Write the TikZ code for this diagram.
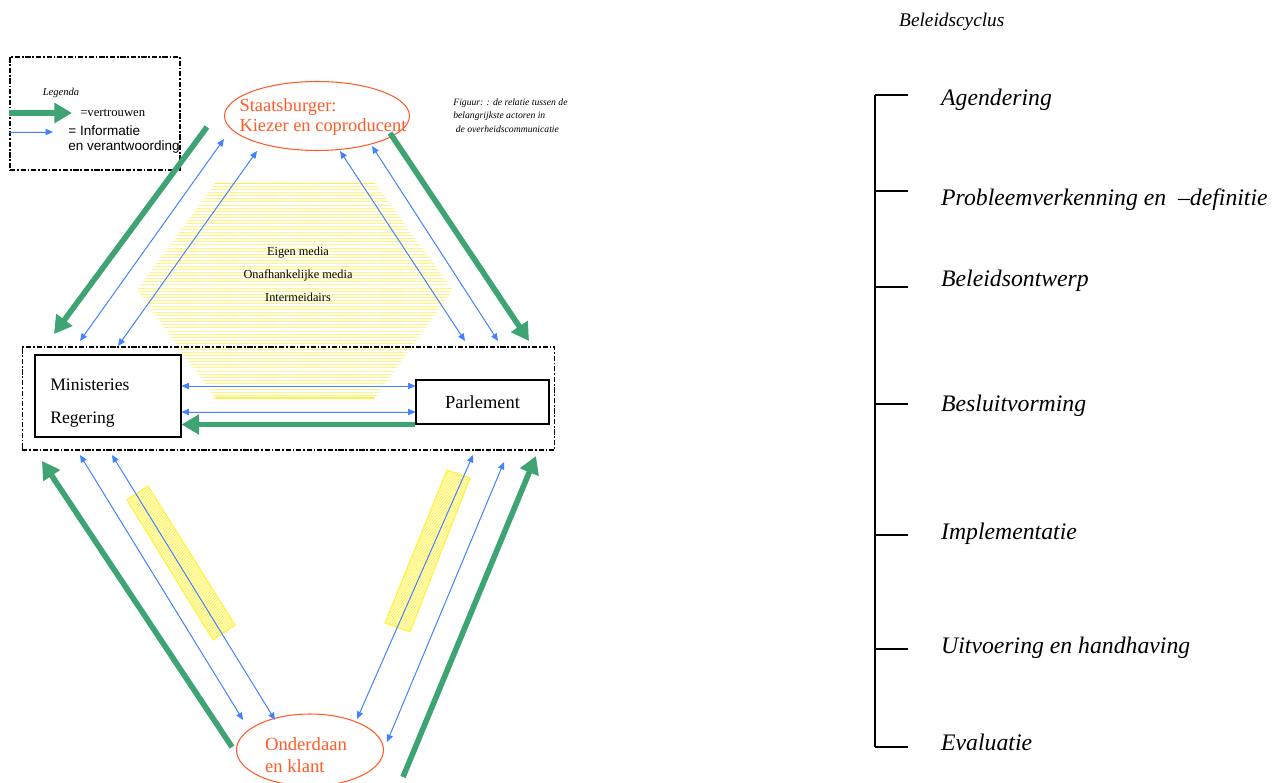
\documentclass[tikz,border=0pt]{standalone}
\usepackage{fontspec}
\setmainfont{Liberation Serif}
\setsansfont{Liberation Sans}
\usetikzlibrary{arrows.meta, shapes.geometric, patterns.meta}

\definecolor{trustgreen}{RGB}{62,164,116}
\definecolor{infoblue}{RGB}{66,130,255}
\definecolor{actororange}{RGB}{255,92,40}
\definecolor{mediayellow}{RGB}{255,242,60}
\definecolor{paleyellow}{RGB}{255,246,120}

\begin{document}
\begin{tikzpicture}[x=0.02cm,y=-0.02cm]
\useasboundingbox (0,0) rectangle (1281,783);

\tikzset{actor/.style = {shape=ellipse,draw=actororange,line width=0.6pt,inner sep=0pt}}
\tikzset{actortext/.style = {text=actororange,align=left,inner sep=0pt}}
\tikzset{box/.style = {shape=rectangle,draw,line width=0.6pt,inner sep=0pt}}
\tikzset{frame/.style = {shape=rectangle,draw,line width=0.6pt,inner sep=0pt,dash pattern=on 3pt off 1pt on 1pt off 1pt}}
\tikzset{trust/.style = {-{Triangle[length=10pt,width=11pt]},draw=trustgreen,fill=trustgreen,line width=3.2pt}}
\tikzset{info/.style = {{Triangle[length=4.2pt,width=3.6pt]}-{Triangle[length=4.2pt,width=3.6pt]},draw=infoblue,fill=infoblue,line width=0.55pt}}
\tikzset{hatch/.style = {pattern={Lines[distance=1.75pt,line width=0.5pt]},pattern color=paleyellow}}
\tikzset{stripes/.style = {fill=mediayellow!25,draw=mediayellow,line width=0.6pt}}
\tikzset{stage/.style = {anchor=west,font=\fontsize{13.5}{16}\selectfont\itshape}}

%media
\path[hatch] (215,183) -- (375,183) -- (453,290) -- (375,398) -- (215,398) -- (137,290) -- cycle;
\draw[mediayellow,line width=0.5pt] (215,183) -- (375,183);
\draw[mediayellow,line width=1.2pt] (215,398) -- (375,398);
\node[align=center,font=\fontsize{7}{13}\selectfont] (media) at (298,274) {Eigen media\\Onafhankelijke media\\Intermeidairs};
\path[stripes] (127,500) -- (148,486) -- (235,625) -- (213,640) -- cycle;
\path[pattern={Lines[angle=50,distance=1.2pt,line width=0.35pt]},pattern color=mediayellow] (127,500) -- (148,486) -- (235,625) -- (213,640) -- cycle;
\path[stripes] (447,470) -- (470,478) -- (410,632) -- (385,623) -- cycle;
\path[pattern={Lines[angle=50,distance=1.2pt,line width=0.35pt]},pattern color=mediayellow] (447,470) -- (470,478) -- (410,632) -- (385,623) -- cycle;

%legend
\node[frame,minimum width=3.4cm,minimum height=2.26cm] (legenda) at (95,113.5) {};
\node[font=\fontsize{6}{7}\selectfont\itshape] (legtitel) at (61,93) {Legenda};
\coordinate (lg1) at (9,113);
\coordinate (lg2) at (72,113);
\coordinate (lb1) at (9,132);
\coordinate (lb2) at (53,132);
\draw[trust,line width=3.6pt] (lg1) -- (lg2);
\draw[-{Triangle[length=4.2pt,width=3.6pt]},draw=infoblue,fill=infoblue,line width=0.55pt] (lb1) -- (lb2);
\node[anchor=west,inner sep=0pt,font=\fontsize{7.2}{8}\selectfont] (legvert) at (80,113) {=vertrouwen};
\node[anchor=north west,inner sep=0pt,align=left,font=\sffamily\fontsize{7.7}{8.6}\selectfont] (leginfo) at (68,125.5) {= Informatie\\en verantwoording};

%caption
\node[anchor=north west,inner sep=0pt,align=left,font=\fontsize{5.5}{7.9}\selectfont\itshape] (figuur) at (453,98) {Figuur: : de relatie tussen de\\belangrijkste actoren in\\\ de overheidscommunicatie};

%actors
\node[actor,minimum width=3.7cm,minimum height=1.38cm] (burger) at (317,116) {};
\node[actortext,font=\fontsize{10.5}{11.4}\selectfont] (burgertxt) at (323,117) {Staatsburger:\\Kiezer en coproducent};
\node[actor,minimum width=2.94cm,minimum height=1.44cm] (onderdaan) at (310,750) {};
\node[actortext,font=\fontsize{10.6}{12.5}\selectfont] (onderdaantxt) at (306,755) {Onderdaan\\en klant};
\node[frame,minimum width=10.66cm,minimum height=2.06cm] (overheid) at (288.5,398.5) {};
\node[box,minimum width=2.92cm,minimum height=1.64cm] (ministeries) at (108,396) {};
\node[anchor=west,align=left,inner sep=0pt,font=\fontsize{10}{19}\selectfont] (ministxt) at (50,403) {Ministeries\\Regering};
\node[box,minimum width=2.66cm,minimum height=0.88cm,font=\fontsize{10.5}{12}\selectfont] (parlement) at (482.5,402) {Parlement};

%arrow ends
\coordinate (g1) at (207,127);  \coordinate (g2) at (54,334);
\coordinate (b1) at (224,139);  \coordinate (b2) at (80,341);
\coordinate (b3) at (257,151);  \coordinate (b4) at (118,346);
\coordinate (b5) at (340,151);  \coordinate (b6) at (465,341);
\coordinate (b7) at (372,146);  \coordinate (b8) at (498,341);
\coordinate (g3) at (390,133);  \coordinate (g4) at (529,341);
\coordinate (g5) at (232,747);  \coordinate (g6) at (42,461);
\coordinate (b9) at (80,455);   \coordinate (b10) at (243,720);
\coordinate (b11) at (112,455); \coordinate (b12) at (275,720);
\coordinate (b13) at (473,455); \coordinate (b14) at (357,719);
\coordinate (b15) at (504,462); \coordinate (b16) at (387,742);
\coordinate (g7) at (403,777);  \coordinate (g8) at (536,456);
\coordinate (m1) at ([yshift=0.2cm]ministeries.east);
\coordinate (m2) at ([yshift=-0.32cm]ministeries.east);

%edges
\draw[trust] (g1) -- (g2);
\draw[info] (b1) -- (b2);
\draw[info] (b3) -- (b4);
\draw[info] (b5) -- (b6);
\draw[info] (b7) -- (b8);
\draw[trust] (g3) -- (g4);
\draw[trust] (g5) -- (g6);
\draw[info] (b9) -- (b10);
\draw[info] (b11) -- (b12);
\draw[info] (b13) -- (b14);
\draw[info] (b15) -- (b16);
\draw[trust] (g7) -- (g8);
\draw[info] (m1) -- (m1 -| parlement.west);
\draw[info] (m2) -- (m2 -| parlement.west);
\draw[trust] (parlement.south west) -- (parlement.south west -| ministeries.east);

%beleidscyclus
\node[anchor=west,font=\fontsize{11}{13}\selectfont\itshape] (cyclus) at (893,22) {Beleidscyclus};
\draw[line width=0.8pt] (875,95) -- (875,747);
\foreach \y/\ty/\fase [count=\i] in {95/100/Agendering, 191/200/{Probleemverkenning en\ \ –definitie}, 287/281/Beleidsontwerp, 404/406/Besluitvorming, 535/534/Implementatie, 649/648/Uitvoering en handhaving, 747/742/Evaluatie}
{
  \coordinate (t\i) at (875,\y);
  \draw[line width=0.8pt] (t\i) -- ++(33,0);
  \node[stage] (fase\i) at (935,\ty) {\fase};
}

\end{tikzpicture}
\end{document}
